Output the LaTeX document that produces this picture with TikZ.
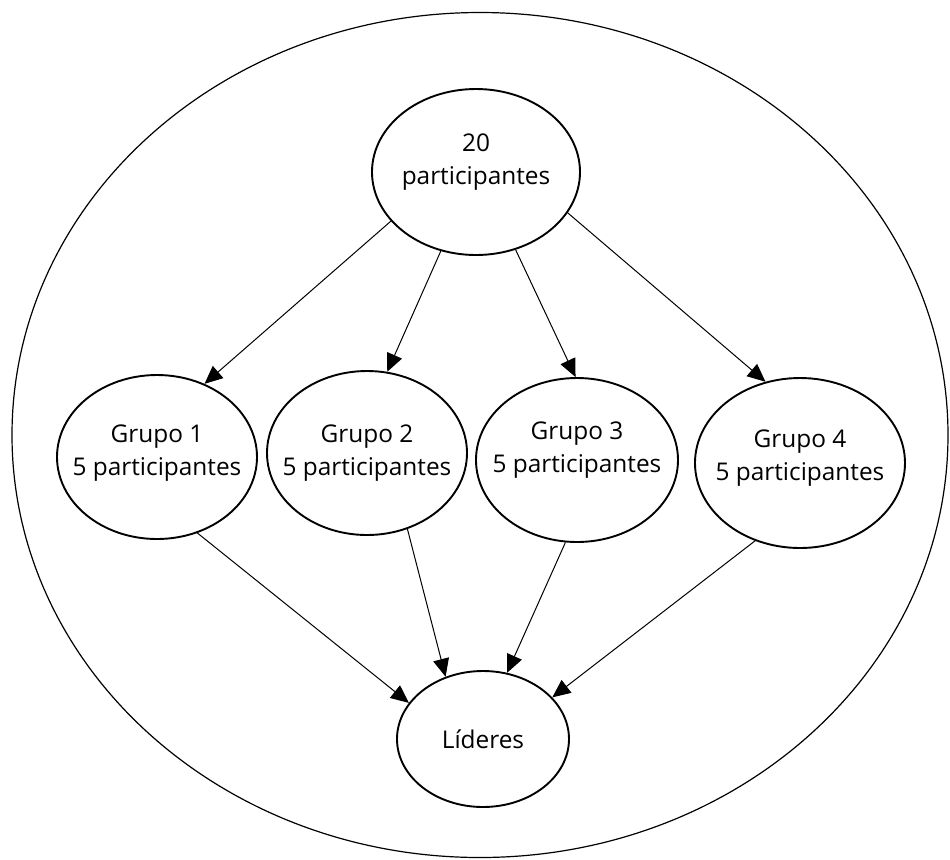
\documentclass[tikz,border=0pt]{standalone}
\usepackage{fontspec}
\setmainfont{Open Sans}
\usetikzlibrary{shapes.geometric,arrows.meta}

\begin{document}
\begin{tikzpicture}[x=0.5pt,y=-0.5pt,
    bolha/.style={ellipse,draw,line width=0.95pt,inner sep=0pt},
    texto/.style={align=center,font=\fontsize{12.2}{16.5}\selectfont},
    seta/.style={-{Triangle[length=9pt,width=8pt]},line width=0.5pt}]
    \useasboundingbox (0,0) rectangle (950,859);
    \node[ellipse,draw,line width=0.6pt,minimum width=468pt,minimum height=422.5pt] (O) at (480,435) {};
    \node[bolha,minimum width=104pt,minimum height=83pt,label={[texto,yshift=5pt]center:20\\participantes}] (P) at (476,172) {};
    \node[bolha,minimum width=100pt,minimum height=82pt,label={[texto,yshift=2pt]center:Grupo 1\\5 participantes}] (G1) at (157,457) {};
    \node[bolha,minimum width=100pt,minimum height=82pt,label={[texto]center:Grupo 2\\5 participantes}] (G2) at (367,453) {};
    \node[bolha,minimum width=101pt,minimum height=82pt,label={[texto,yshift=5pt]center:Grupo 3\\5 participantes}] (G3) at (577,460) {};
    \node[bolha,minimum width=105pt,minimum height=85pt,label={[texto,yshift=2.5pt]center:Grupo 4\\5 participantes}] (G4) at (800,463) {};
    \node[bolha,minimum width=86pt,minimum height=68pt,label={[texto]center:Líderes}] (L) at (483,739) {};
    % participantes -> grupos
    \draw[seta] (P.210) -- (G1.57);
    \draw[seta] (P.246) -- (G2.76);
    \draw[seta] (P.297) -- (G3.91);
    \draw[seta] (P.336) -- (G4.113);
    % grupos -> lideres
    \draw[seta] (G1.298) -- (L.154);
    \draw[seta] (G2.298) -- (L.121);
    \draw[seta] (G3.262) -- (L.70);
    \draw[seta] (G4.240) -- (L.31);
\end{tikzpicture}
\end{document}
